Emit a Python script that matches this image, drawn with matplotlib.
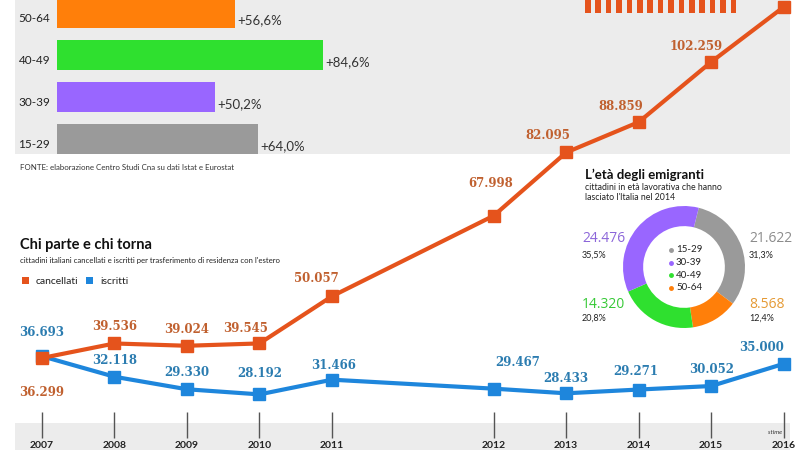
import matplotlib
matplotlib.use("Agg")
import matplotlib.pyplot as plt
from matplotlib.patches import Rectangle
from matplotlib.transforms import blended_transform_factory
import numpy as np

plt.rcParams['font.family'] = ['Lato', 'DejaVu Sans']

# dati: cittadini italiani cancellati / iscritti per trasferimento di residenza
anni = [2007, 2008, 2009, 2010, 2011, 2012, 2013, 2014, 2015, 2016]
cancellati = [36299, 39536, 39024, 39545, 50057, 67998, 82095, 88859, 102259, 114512]
iscritti = [36693, 32118, 29330, 28192, 31466, 29467, 28433, 29271, 30052, 35000]

# età degli emigranti (2014)
fasce = ['15-29', '30-39', '40-49', '50-64']
emigranti = [21622, 24476, 14320, 8568]
quota = [31.3, 35.5, 20.8, 12.4]
crescita = [64.0, 50.2, 84.6, 56.6]
colori_fasce = ['#9a9a9a', '#9966ff', '#2fe02f', '#ff7f0a']
colori_num = ['#8c8c8c', '#8c66d9', '#36c936', '#e59a35']

ARANCIO = '#e5531c'
BLU = '#1e86dc'
GRIGIO = '#ececec'


def fmt(v):
    return f"{v:,}".replace(',', '.')


fig = plt.figure(figsize=(8, 4.5), dpi=100)
fig.patch.set_facecolor('white')

# fondo e decorazioni (coordinate in pixel)
bg = fig.add_axes([0, 0, 1, 1], zorder=0)
bg.set_xlim(0, 800)
bg.set_ylim(450, 0)
bg.axis('off')
bg.add_patch(Rectangle((15, 0), 775, 154, color=GRIGIO, lw=0))
bg.add_patch(Rectangle((15, 423), 775, 27, color=GRIGIO, lw=0))
for i in range(15):
    bg.add_patch(Rectangle((585 + i * 10.4, 0), 5.5, 13, color=ARANCIO, lw=0))

bg.text(20, 167, "FONTE: elaborazione Centro Studi Cna su dati Istat e Eurostat",
        fontsize=5.7, color='#333333', va='center')
bg.text(20, 245, "Chi parte e chi torna", fontsize=10.5, fontweight='bold',
        color='#111111', va='center')
bg.text(20, 261, "cittadini italiani cancellati e iscritti per trasferimento di residenza con l'estero",
        fontsize=5.6, color='#222222', va='center')
bg.add_patch(Rectangle((22, 277), 7, 7, color=ARANCIO, lw=0))
bg.text(36, 281, "cancellati", fontsize=7.5, color='#222222', va='center')
bg.add_patch(Rectangle((86, 277), 7, 7, color=BLU, lw=0))
bg.text(100, 281, "iscritti", fontsize=7.5, color='#222222', va='center')

bg.text(585, 175, "L\u2019età degli emigranti", fontsize=9.5, fontweight='bold',
        color='#111111', va='center')
bg.text(585, 187, "cittadini in età lavorativa che hanno", fontsize=6.3,
        color='#222222', va='center')
bg.text(585, 197, "lasciato l'Italia nel 2014", fontsize=6.3,
        color='#222222', va='center')
bg.text(782, 432, "stime", fontsize=4.5, style='italic', color='#333333',
        ha='right', va='center')

# barre: crescita per fascia d'età
axb = fig.add_axes([57 / 800, (450 - 160) / 450, 314 / 800, 160 / 450], zorder=1)
axb.set_facecolor('none')
pos = np.arange(len(fasce))
axb.barh(pos, crescita, height=0.7, color=colori_fasce)
axb.set_xlim(0, 100)
axb.set_ylim(-0.5, 3.31)
axb.axis('off')
for p, f, c in zip(pos, fasce, crescita):
    axb.annotate(f, (0, p), xytext=(-5, -4), textcoords='offset points',
                 ha='right', va='center', fontsize=8.5, color='#222222')
    axb.annotate(f"+{c:.1f}%".replace('.', ','), (c, p), xytext=(2, -5),
                 textcoords='offset points', ha='left', va='center',
                 fontsize=9.5, color='#333333')

# linee cancellati / iscritti
ax = fig.add_axes([0, 0, 1, 1], zorder=2)
ax.set_facecolor('none')
xpos = np.array([a + (1.23 if a >= 2012 else 0) for a in anni])
ax.plot(xpos, iscritti, color=BLU, lw=3, marker='s', ms=9, zorder=3)
ax.plot(xpos, cancellati, color=ARANCIO, lw=3, marker='s', ms=9, zorder=4)
ax.set_xlim(2006.421, 2017.455)
ax.set_ylim(15800, 116067)
ax.axis('off')

off_c = [(0, -25), (0, 12), (0, 12), (-10, 11), (-11, 13), (-2, 23), (-13, 12), (-13, 11), (-11, 11), None]
off_i = [(0, 17), (0, 12), (0, 12), (0, 15), (1, 10), (17, 19), (0, 11), (-2, 13), (0, 12), (-16, 12)]
for x, v, o in zip(xpos, cancellati, off_c):
    if o is None:
        continue
    ax.annotate(fmt(v), (x, v), xytext=o, textcoords='offset points',
                ha='center', va='center', fontsize=8.5, fontweight='bold',
                family='DejaVu Serif', color='#c0602f', zorder=5)
for x, v, o in zip(xpos, iscritti, off_i):
    ax.annotate(fmt(v), (x, v), xytext=o, textcoords='offset points',
                ha='center', va='center', fontsize=8.5, fontweight='bold',
                family='DejaVu Serif', color='#2b7cb0', zorder=5)

tr = blended_transform_factory(ax.transData, ax.transAxes)
ax.vlines(xpos, (450 - 438) / 450, (450 - 412) / 450, color='#555555', lw=1, transform=tr)
for x, a in zip(xpos, anni):
    ax.text(x, (450 - 446) / 450, str(a), transform=tr, ha='center', va='center',
            fontsize=7.5, fontweight='bold', color='#222222')

# ciambella
axd = fig.add_axes([(684 - 61) / 800, (450 - 267 - 61) / 450, 122 / 800, 122 / 450], zorder=3)
ordine = [0, 3, 2, 1]
axd.pie([emigranti[i] for i in ordine], colors=[colori_fasce[i] for i in ordine],
        startangle=76, counterclock=False,
        wedgeprops=dict(width=0.33, edgecolor='none'))
axd.set_xlim(-1, 1)
axd.set_ylim(-1, 1)

for i, f in enumerate(fasce):
    bg.plot(671, 250 + 12.5 * i, 'o', ms=2.5, color=colori_fasce[i])
    bg.text(676, 250 + 12.5 * i, f, fontsize=7, color='#222222', va='center')

etich = {0: (749, 239, 255), 1: (582, 239, 255), 2: (582, 305, 318), 3: (749, 305, 318)}
for i, (x, y1, y2) in etich.items():
    bg.text(x, y1, fmt(emigranti[i]), fontsize=10, color=colori_num[i],
            va='center', fontweight='medium', family=['Open Sans', 'DejaVu Sans'])
    bg.text(x, y2, f"{quota[i]:.1f}%".replace('.', ','), fontsize=6.5,
            color='#222222', va='center')

fig.savefig('out.png', dpi=100)
